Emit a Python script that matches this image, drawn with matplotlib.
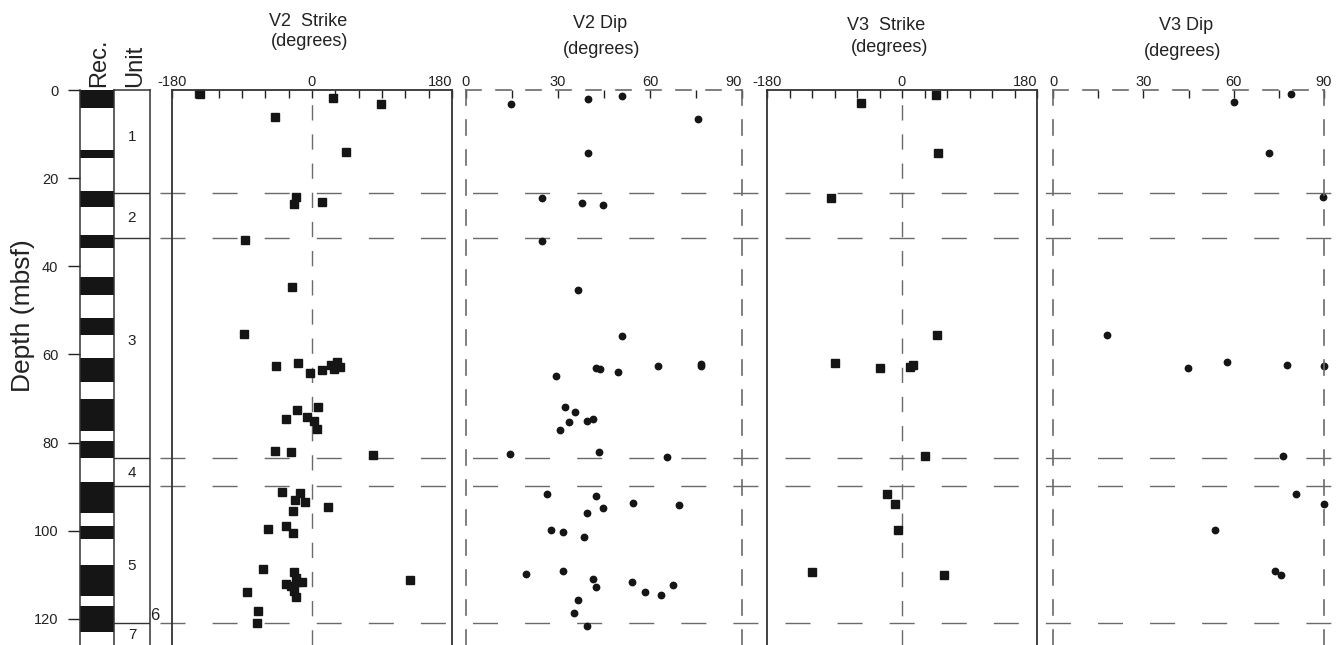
import matplotlib
matplotlib.use("Agg")
import matplotlib.pyplot as plt

plt.rcParams['font.family'] = ['Liberation Sans', 'DejaVu Sans']

# core recovery intervals (mbsf)
rec_top = [0, 13.6, 22.9, 32.9, 42.4, 51.7, 60.8, 70.1, 79.6, 88.9, 98.9, 107.7, 117.0]
rec_bot = [4.1, 15.4, 26.5, 35.8, 46.5, 55.6, 66.2, 77.3, 83.4, 95.9, 101.8, 114.7, 122.9]

# lithologic unit boundaries and labels
unit_bounds = [23.4, 33.5, 83.5, 89.8, 121.0]
unit_names = ["1", "2", "3", "4", "5", "7"]
unit_label_depth = [10.6, 29.0, 57.0, 87.0, 108.0, 123.6]

# V2 strike (degrees)
v2s_depth = [1.0, 1.9, 3.2, 6.2, 14.1, 24.2, 25.8, 25.5, 34.0, 44.8, 55.4, 62.6, 62.0, 64.3, 63.6,
             62.4, 63.3, 61.8, 62.9, 71.9, 72.7, 74.6, 74.2, 75.0, 76.8, 81.9, 82.2, 82.8, 91.2,
             91.5, 93.0, 93.4, 94.5, 95.5, 99.5, 99.0, 100.5, 108.6, 109.4, 110.7, 112.1, 111.6,
             111.6, 112.6, 113.7, 115.0, 111.2, 113.9, 118.1, 120.9]
v2s_val = [-144, 27, 89, -48, 44, -21, -23, 13, -86, -26, -87, -46, -18, -3, 13,
           24, 28, 32, 36, 8, -19, -33, -6, 2, 7, -47, -27, 78, -39,
           -15, -22, -9, 20, -25, -57, -33, -25, -63, -23, -21, -33, -19,
           -13, -27, -23, -21, 126, -84, -69, -71]

# V2 dip (degrees)
v2d_depth = [3.2, 1.95, 1.3, 6.6, 14.3, 24.4, 25.6, 26.2, 34.2, 45.3, 55.7, 64.9, 63.0, 63.3, 63.9,
             62.5, 62.1, 62.6, 71.9, 73.0, 75.3, 75.2, 74.6, 77.2, 82.6, 82.2, 83.3, 91.7, 92.0,
             94.9, 93.6, 94.1, 95.9, 99.8, 100.2, 101.3, 109.9, 109.1, 110.9, 112.7, 111.6, 113.8,
             114.6, 112.3, 115.8, 118.7, 121.5]
v2d_val = [14.7, 39.7, 50.8, 75.5, 39.7, 24.8, 37.8, 44.7, 24.7, 36.6, 50.8, 29.5, 42.4, 43.7, 49.7,
           62.6, 76.7, 76.7, 32.4, 35.4, 33.6, 39.3, 41.4, 30.5, 14.5, 43.5, 65.5, 26.5, 42.4,
           44.7, 54.3, 69.6, 39.5, 27.6, 31.6, 38.5, 19.5, 31.6, 41.3, 42.4, 54.2, 58.5,
           63.5, 67.4, 36.5, 35.3, 39.5]

# V3 strike (degrees)
v3s_depth = [2.9, 1.1, 14.4, 24.6, 55.5, 62.0, 63.1, 62.9, 62.4, 83.1, 91.7, 94.0, 99.8, 109.3, 110.0]
v3s_val = [-55, 45, 48, -95, 47, -90, -29, 11, 15, 31, -20, -10, -6, -120, 56]

# V3 dip (degrees)
v3d_depth = [2.7, 0.9, 14.3, 24.3, 55.6, 63.1, 61.8, 62.4, 62.7, 83.1, 91.7, 93.9, 99.8, 109.1, 110.0]
v3d_val = [60.0, 79, 71.8, 89.8, 17.9, 44.8, 57.8, 77.6, 89.9, 76.5, 80.6, 89.9, 53.7, 73.6, 75.7]

W, H = 1342, 645
TOP = 90
PX_PER_M = 4.408
DMAX = (H - TOP) / PX_PER_M
INK = '#151515'
GRID = '#6a6a6a'
TXT = '#222222'

fig = plt.figure(figsize=(W / 100, H / 100), dpi=100)


def add_ax(left, right):
    ax = fig.add_axes([left / W, 0, (right - left) / W, (H - TOP) / H])
    ax.set_ylim(DMAX, 0)
    ax.patch.set_alpha(0)
    return ax


# dashed unit boundaries running across all panels
over = add_ax(160, 1342)
over.set_xlim(0, 1)
over.axis('off')
for b in unit_bounds:
    over.axhline(b, color=GRID, lw=1.0, dashes=(18, 19.5))

# recovery column
rec = add_ax(80, 114)
rec.set_xlim(0, 1)
rec.bar([0.5] * len(rec_top), [b - t for t, b in zip(rec_top, rec_bot)], bottom=rec_top,
        width=1, color=INK, linewidth=0)
for s in ['top', 'bottom']:
    rec.spines[s].set_visible(False)
for s in ['left', 'right']:
    rec.spines[s].set_color('#333333')
    rec.spines[s].set_linewidth(1.1)
rec.set_xticks([])
rec.set_yticks(range(0, 121, 20))
rec.tick_params(axis='y', direction='out', length=8.5, width=1, pad=7, labelsize=10.5,
                colors=TXT)
fig.text(23 / W, 1 - 316 / H, "Depth (mbsf)", rotation=90, ha='center', va='center',
         fontsize=19, color=TXT)

# unit column
unit = add_ax(114, 150)
unit.set_xlim(0, 1)
unit.spines['bottom'].set_visible(False)
unit.spines['left'].set_visible(False)
for s in ['top', 'right']:
    unit.spines[s].set_color('#333333')
    unit.spines[s].set_linewidth(1.1)
unit.set_xticks([])
unit.set_yticks([])
for b in unit_bounds:
    unit.axhline(b, color='#333333', lw=1.0)
for name, d in zip(unit_names, unit_label_depth):
    unit.text(0.5, d, name, ha='center', va='center', fontsize=11, color=TXT)
unit.text(1.12, 119.3, "6", ha='center', va='center', fontsize=12, color=TXT, clip_on=False)

fig.text(99 / W, 1 - 87 / H, "Rec.", rotation=90, ha='center', va='bottom', fontsize=17,
         color=TXT)
fig.text(135 / W, 1 - 87 / H, "Unit", rotation=90, ha='center', va='bottom', fontsize=17,
         color=TXT)


def top_ticks(ax, ticks, labeled, last_ha):
    ax.xaxis.tick_top()
    ax.set_xticks(ticks)
    ax.set_xticklabels([str(t) if t in labeled else "" for t in ticks])
    ax.tick_params(axis='x', direction='in', length=6, width=1, pad=1, labelsize=10.5,
                   colors=TXT)
    ax.get_xticklabels()[-1].set_ha(last_ha)
    ax.set_yticks([])


def strike_panel(left, right, depth, val, last_ha):
    ax = add_ax(left, right)
    ax.set_xlim(-180, 180)
    ax.spines['bottom'].set_visible(False)
    for s in ['top', 'left', 'right']:
        ax.spines[s].set_color('#333333')
        ax.spines[s].set_linewidth(1.3)
    top_ticks(ax, list(range(-180, 181, 30)), (-180, 0, 180), last_ha)
    ax.axvline(0, color=GRID, lw=1.0, dashes=(11, 10))
    ax.plot(val, depth, 's', ms=5.8, color=INK, clip_on=False)
    return ax


def dip_panel(left, right, depth, val, last_ha):
    ax = add_ax(left, right)
    ax.set_xlim(0, 90)
    ax.spines['bottom'].set_visible(False)
    for s in ['top', 'left', 'right']:
        ax.spines[s].set_color(GRID)
        ax.spines[s].set_linewidth(1.2)
        ax.spines[s].set_linestyle((0, (9, 9)))
    top_ticks(ax, list(range(0, 91, 15)), (0, 30, 60, 90), last_ha)
    ax.plot(val, depth, 'o', ms=4.6, color=INK, clip_on=False)
    return ax


strike_panel(172, 452, v2s_depth, v2s_val, 'right')
dip_panel(466, 742, v2d_depth, v2d_val, 'right')
strike_panel(767, 1037, v3s_depth, v3s_val, 'right')
dip_panel(1053, 1324, v3d_depth, v3d_val, 'center')

titles = [("V2  Strike", 308, 22, 310, 42), ("V2 Dip", 600, 23, 602, 49),
          ("V3  Strike", 886, 26, 890, 47), ("V3 Dip", 1186, 25, 1183, 51)]
for name, x1, y1, x2, y2 in titles:
    fig.text(x1 / W, 1 - y1 / H, name, ha='center', va='center', fontsize=13, color=TXT)
    fig.text(x2 / W, 1 - y2 / H, "(degrees)", ha='center', va='center', fontsize=13,
             color=TXT)

fig.savefig("out.png", dpi=100)
